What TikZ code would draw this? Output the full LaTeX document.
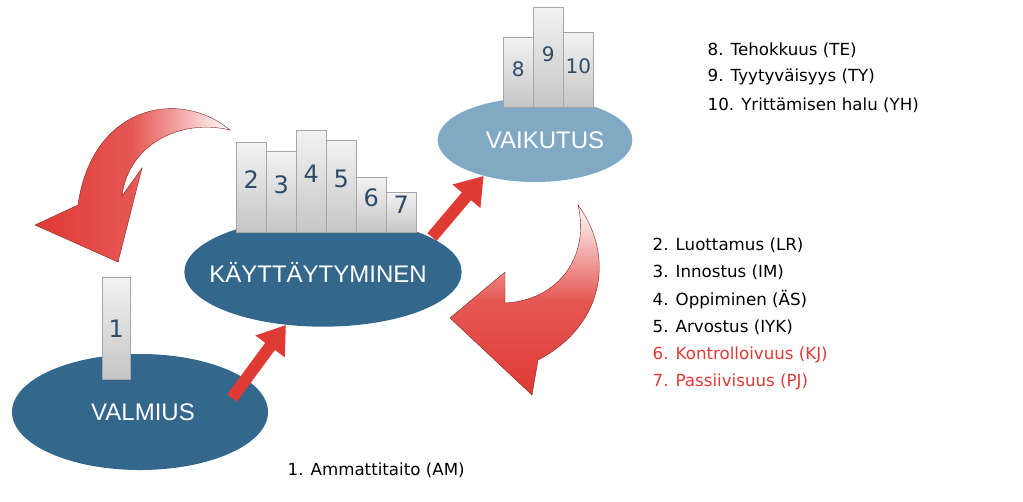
\documentclass[tikz,border=0pt]{standalone}
\usepackage{fontspec}
\setmainfont{DejaVu Sans}
\newfontfamily\ellfont{Liberation Sans}
\usetikzlibrary{shapes.geometric,arrows.meta}
\definecolor{dblue}{HTML}{33678C}
\definecolor{lblue}{HTML}{82A9C4}
\definecolor{numc}{HTML}{2E4C6A}
\definecolor{redc}{HTML}{E03A35}
\begin{document}
\begin{tikzpicture}[x=0.75pt,y=-0.75pt,
  ell/.style={ellipse,fill=#1,draw=none},
  etxt/.style={text=white,font=\ellfont\fontsize{18}{20}\selectfont},
  bar/.style={draw=gray!70,top color=gray!10,bottom color=gray!45,text=numc,font=\fontsize{18}{20}\selectfont},
  lbl/.style={anchor=west,font=\fontsize{12.5}{14}\selectfont},
  sarrow/.style={-{Triangle[length=20pt,width=26pt]},line width=9pt,redc},
  carrow/.style={draw=redc!60!black,line width=0.3pt}]
\useasboundingbox (0,0) rectangle (1023,501);
% curved arrows
\path[carrow,left color=redc,right color=white,middle color=redc!85] (230,130) .. controls (180,88) and (92,105) .. (78,205)
  -- (35,225) -- (118,262) -- (142,168) -- (122,196) .. controls (128,145) and (180,118) .. (230,130) -- cycle;
\path[carrow,top color=white,bottom color=redc,middle color=redc!85] (578,205) .. controls (615,255) and (605,325) .. (538,360)
  -- (532,395) -- (450,318) -- (505,272) -- (505,303) .. controls (560,300) and (590,255) .. (578,205) -- cycle;
% ellipses
\node[ell=dblue,minimum width=192pt,minimum height=87pt] (val) at (140,412) {};
\node[ell=dblue,minimum width=208pt,minimum height=82pt] (kay) at (323,272) {};
\node[ell=lblue,minimum width=146pt,minimum height=63pt] (vai) at (535,140) {};
\node[etxt] (valt) at (143,412) {VALMIUS};
\node[etxt] (kayt) at (318,272) {KÄYTTÄYTYMINEN};
\node[etxt] (vait) at (545,140) {VAIKUTUS};
% bars
\node[bar,minimum width=21pt,minimum height=76.5pt,anchor=south west,inner sep=0pt] (b1) at (102,380) {1};
\foreach \n/\x/\t in {2/236/143,3/266/152,4/296/131,5/326/141,6/356/178,7/386/193}{
  \node[bar,minimum width=22.5pt,minimum height={(233-\t)*0.75pt},anchor=south west,inner sep=0pt,text depth=0pt] (b\n) at (\x,233) {\raisebox{12pt}{\n}};
}
\foreach \n/\x/\t in {8/503/38,9/533/8,10/563/33}{
  \node[bar,minimum width=22.5pt,minimum height={(108-\t)*0.75pt},anchor=south west,inner sep=0pt,font=\fontsize{15}{18}\selectfont] (b\n) at (\x,108) {\raisebox{6pt}{\n}};
}
% straight arrows
\coordinate (s1) at (232,398);
\coordinate (s2) at (432,237);
\draw[sarrow] (s1) -- (kay.235);
\draw[sarrow] (s2) -- (vai.215);
% labels
\node[lbl] (t8) at (703,50) {8. Tehokkuus (TE)};
\node[lbl] (t9) at (703,77) {9. Tyytyväisyys (TY)};
\node[lbl] (t10) at (703,105) {10. Yrittämisen halu (YH)};
\node[lbl] (t2) at (648,245) {2. Luottamus (LR)};
\node[lbl] (t3) at (648,272) {3. Innostus (IM)};
\node[lbl] (t4) at (648,300) {4. Oppiminen (ÄS)};
\node[lbl] (t5) at (648,327) {5. Arvostus (IYK)};
\node[lbl,text=redc] (t6) at (648,355) {6. Kontrolloivuus (KJ)};
\node[lbl,text=redc] (t7) at (648,382) {7. Passiivisuus (PJ)};
\node[lbl] (t1) at (283,470) {1. Ammattitaito (AM)};
\end{tikzpicture}
\end{document}
